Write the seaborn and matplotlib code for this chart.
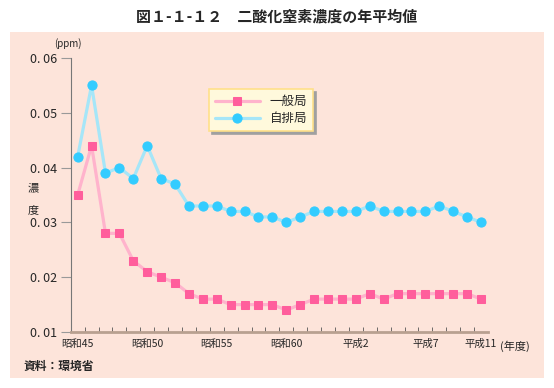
import numpy as np
import pandas as pd
import matplotlib
matplotlib.use('Agg')
import matplotlib.pyplot as plt
from matplotlib.patches import Rectangle
import seaborn as sns

# data
years = list(range(1970, 2000))
general = [0.035, 0.044, 0.028, 0.028, 0.023, 0.021, 0.020, 0.019, 0.017, 0.016,
           0.016, 0.015, 0.015, 0.015, 0.015, 0.014, 0.015, 0.016, 0.016, 0.016,
           0.016, 0.017, 0.016, 0.017, 0.017, 0.017, 0.017, 0.017, 0.017, 0.016]
roadside = [0.042, 0.055, 0.039, 0.040, 0.038, 0.044, 0.038, 0.037, 0.033, 0.033,
            0.033, 0.032, 0.032, 0.031, 0.031, 0.030, 0.031, 0.032, 0.032, 0.032,
            0.032, 0.033, 0.032, 0.032, 0.032, 0.032, 0.033, 0.032, 0.031, 0.030]
tick_pos = [0, 5, 10, 15, 20, 25, 29]
tick_labels = ['昭和45', '昭和50', '昭和55', '昭和60', '平成2', '平成7', '平成11']
y_ticks = [0.01, 0.02, 0.03, 0.04, 0.05, 0.06]
y_labels = ['0. 01', '0. 02', '0. 03', '0. 04', '0. 05', '0. 06']
series_names = ['一般局', '自排局']

sns.set_style('ticks')
plt.rcParams['font.family'] = ['Noto Sans CJK JP', 'DejaVu Sans']

W, H = 554, 388
fig = plt.figure(figsize=(W / 100, H / 100), dpi=100)
fig.patch.set_facecolor('white')

# pink panel behind the chart
fig.patches.append(Rectangle((10 / W, (H - 378) / H), 534 / W, 346 / H,
                             transform=fig.transFigure, facecolor='#FDE4DA',
                             edgecolor='none', zorder=-5))

ax = fig.add_axes([70.7 / W, (H - 332) / H, (488 - 70.7) / W, (332 - 58) / H])
ax.set_zorder(2)
ax.set_facecolor('none')

df = pd.DataFrame({'idx': range(len(years)), '一般局': general, '自排局': roadside})

sns.lineplot(data=df, x='idx', y='一般局', ax=ax, color='#FFB3CC', lw=2.3,
             marker='s', markersize=5.6, markerfacecolor='#FF5E9C',
             markeredgecolor='#FF5E9C', label=series_names[0], zorder=3)
sns.lineplot(data=df, x='idx', y='自排局', ax=ax, color='#A6E6F8', lw=2.3,
             marker='o', markersize=6.6, markerfacecolor='#33CCFF',
             markeredgecolor='#33CCFF', label=series_names[1], zorder=3)

ax.set_xlim(-0.5, len(years) - 0.5)
ax.set_ylim(0.01, 0.06)
ax.set_yticks(y_ticks)
ax.set_yticklabels(y_labels, fontsize=9)
ax.set_xticks(tick_pos)
ax.set_xticklabels(tick_labels, fontsize=7.5)
ax.set_xticks(np.arange(0.5, len(years) - 0.5, 1), minor=True)
ax.tick_params(axis='x', which='major', length=0, pad=5)
ax.tick_params(axis='x', which='minor', direction='in', length=3.5, color='#555555')
ax.tick_params(axis='y', length=7, color='#999999', pad=3)
ax.set_xlabel('')
ax.set_ylabel('')

sns.despine(ax=ax)
ax.spines['left'].set_color('#777777')
ax.spines['bottom'].set_color('#B8A090')
ax.spines['bottom'].set_linewidth(2)

leg = ax.legend(loc='upper left', bbox_to_anchor=((203 - 70.7) / (488 - 70.7), (332 - 83) / (332 - 58)),
                frameon=True, fancybox=False, shadow={'color': '#A0A0A0', 'alpha': 1},
                facecolor='#FFF9DC', edgecolor='#FFE08A', framealpha=1,
                fontsize=9, handlelength=3.6, borderpad=0.45, labelspacing=0.35)
leg.get_frame().set_linewidth(1.2)

fig.text(0.5, (H - 17) / H, '図１-１-１２　二酸化窒素濃度の年平均値', ha='center',
         va='center', fontsize=10.8, fontweight='bold')
fig.text(68 / W, (H - 44) / H, '(ppm)', ha='center', va='center', fontsize=7)
fig.text(33 / W, (H - 188) / H, '濃', ha='center', va='center', fontsize=8)
fig.text(33 / W, (H - 210) / H, '度', ha='center', va='center', fontsize=8)
fig.text(500 / W, (H - 346) / H, '(年度)', ha='left', va='center', fontsize=8)
fig.text(24 / W, (H - 366) / H, '資料：環境省', ha='left', va='center', fontsize=8.5,
         fontweight='bold')

fig.savefig('out.png', dpi=100, facecolor='white')
